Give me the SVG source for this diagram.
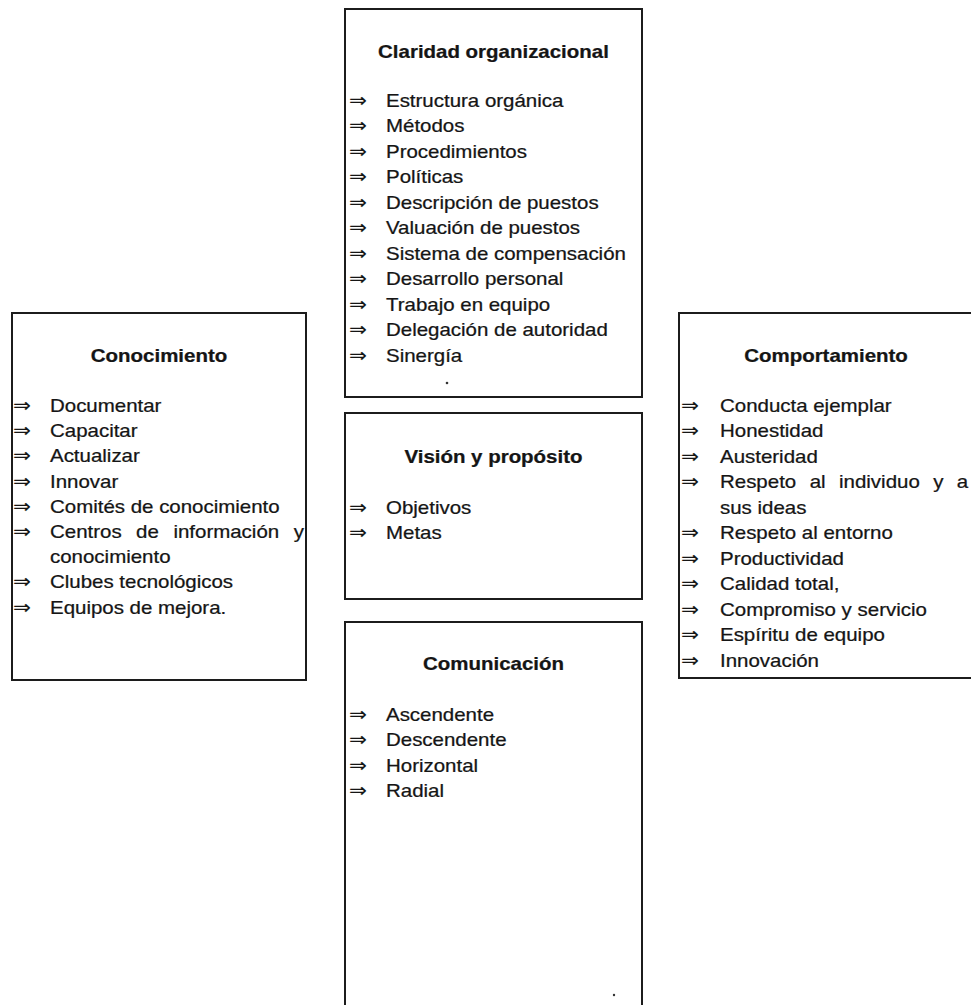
<svg xmlns="http://www.w3.org/2000/svg" width="971" height="1005" viewBox="0 0 971 1005">
  <style>
    .box { fill: none; stroke: #1c1c1c; stroke-width: 2; }
    .t { font-family: "Liberation Sans", Arial, sans-serif; font-size: 18.6px; fill: #151515; stroke: #151515; stroke-width: 0.25; }
    .h { font-weight: bold; text-anchor: middle; }
    .ar { font-family: "DejaVu Sans", sans-serif; font-size: 19.5px; stroke-width: 0.1; }
    .dot { fill: #333; }
  </style>
  <rect width="971" height="1005" fill="#ffffff"/>

  <!-- no connectors in this figure -->
  <g id="connectors"/>

  <!-- Claridad organizacional (top centre) -->
  <g id="claridad">
    <rect class="box" x="345" y="9" width="297" height="388"/>
    <g transform="translate(386 0) scale(1.1 1)">
      <text class="t h" x="97.7" y="58">Claridad organizacional</text>
      <text class="t" y="107"><tspan class="ar" x="-33.6">⇒</tspan><tspan x="0">Estructura orgánica</tspan></text>
      <text class="t" y="132.5"><tspan class="ar" x="-33.6">⇒</tspan><tspan x="0">Métodos</tspan></text>
      <text class="t" y="158"><tspan class="ar" x="-33.6">⇒</tspan><tspan x="0">Procedimientos</tspan></text>
      <text class="t" y="183.5"><tspan class="ar" x="-33.6">⇒</tspan><tspan x="0">Políticas</tspan></text>
      <text class="t" y="209"><tspan class="ar" x="-33.6">⇒</tspan><tspan x="0">Descripción de puestos</tspan></text>
      <text class="t" y="234.5"><tspan class="ar" x="-33.6">⇒</tspan><tspan x="0">Valuación de puestos</tspan></text>
      <text class="t" y="260"><tspan class="ar" x="-33.6">⇒</tspan><tspan x="0">Sistema de compensación</tspan></text>
      <text class="t" y="285.5"><tspan class="ar" x="-33.6">⇒</tspan><tspan x="0">Desarrollo personal</tspan></text>
      <text class="t" y="311"><tspan class="ar" x="-33.6">⇒</tspan><tspan x="0">Trabajo en equipo</tspan></text>
      <text class="t" y="336.5"><tspan class="ar" x="-33.6">⇒</tspan><tspan x="0">Delegación de autoridad</tspan></text>
      <text class="t" y="362"><tspan class="ar" x="-33.6">⇒</tspan><tspan x="0">Sinergía</tspan></text>
    </g>
    <circle class="dot" cx="447" cy="383" r="1.3"/>
  </g>

  <!-- Visión y propósito (centre) -->
  <g id="vision">
    <rect class="box" x="345" y="413" width="297" height="186"/>
    <g transform="translate(386 0) scale(1.1 1)">
      <text class="t h" x="97.7" y="463">Visión y propósito</text>
      <text class="t" y="514"><tspan class="ar" x="-33.6">⇒</tspan><tspan x="0">Objetivos</tspan></text>
      <text class="t" y="539.5"><tspan class="ar" x="-33.6">⇒</tspan><tspan x="0">Metas</tspan></text>
    </g>
  </g>

  <!-- Comunicación (bottom centre, runs past the lower edge) -->
  <g id="comunicacion">
    <path class="box" d="M345,1012 V622 H642 V1012"/>
    <g transform="translate(386 0) scale(1.1 1)">
      <text class="t h" x="97.7" y="670">Comunicación</text>
      <text class="t" y="721"><tspan class="ar" x="-33.6">⇒</tspan><tspan x="0">Ascendente</tspan></text>
      <text class="t" y="746.5"><tspan class="ar" x="-33.6">⇒</tspan><tspan x="0">Descendente</tspan></text>
      <text class="t" y="772"><tspan class="ar" x="-33.6">⇒</tspan><tspan x="0">Horizontal</tspan></text>
      <text class="t" y="797.5"><tspan class="ar" x="-33.6">⇒</tspan><tspan x="0">Radial</tspan></text>
    </g>
    <circle class="dot" cx="614" cy="995" r="1.2"/>
  </g>

  <!-- Conocimiento (left) -->
  <g id="conocimiento">
    <rect class="box" x="12" y="313" width="294" height="367"/>
    <g transform="translate(50 0) scale(1.1 1)">
      <text class="t h" x="99.1" y="362">Conocimiento</text>
      <text class="t" y="412"><tspan class="ar" x="-33.6">⇒</tspan><tspan x="0">Documentar</tspan></text>
      <text class="t" y="437.2"><tspan class="ar" x="-33.6">⇒</tspan><tspan x="0">Capacitar</tspan></text>
      <text class="t" y="462.4"><tspan class="ar" x="-33.6">⇒</tspan><tspan x="0">Actualizar</tspan></text>
      <text class="t" y="487.6"><tspan class="ar" x="-33.6">⇒</tspan><tspan x="0">Innovar</tspan></text>
      <text class="t" y="512.8"><tspan class="ar" x="-33.6">⇒</tspan><tspan x="0">Comités de conocimiento</tspan></text>
      <text class="t" y="538"><tspan class="ar" x="-33.6">⇒</tspan><tspan x="0">Centros</tspan><tspan x="78.3">de</tspan><tspan x="112.2">información</tspan><tspan x="221.5">y</tspan></text>
      <text class="t" y="563.2"><tspan x="0">conocimiento</tspan></text>
      <text class="t" y="588.4"><tspan class="ar" x="-33.6">⇒</tspan><tspan x="0">Clubes tecnológicos</tspan></text>
      <text class="t" y="613.6"><tspan class="ar" x="-33.6">⇒</tspan><tspan x="0">Equipos de mejora.</tspan></text>
    </g>
  </g>

  <!-- Comportamiento (right, runs past the right edge) -->
  <g id="comportamiento">
    <path class="box" d="M980,313 H679 V678 H980"/>
    <g transform="translate(720 0) scale(1.1 1)">
      <text class="t h" x="96.4" y="362">Comportamiento</text>
      <text class="t" y="412"><tspan class="ar" x="-35.5">⇒</tspan><tspan x="0">Conducta ejemplar</tspan></text>
      <text class="t" y="437.5"><tspan class="ar" x="-35.5">⇒</tspan><tspan x="0">Honestidad</tspan></text>
      <text class="t" y="463"><tspan class="ar" x="-35.5">⇒</tspan><tspan x="0">Austeridad</tspan></text>
      <text class="t" y="488.5"><tspan class="ar" x="-35.5">⇒</tspan><tspan x="0">Respeto</tspan><tspan x="81.5">al</tspan><tspan x="108.2">individuo</tspan><tspan x="193.8">y</tspan><tspan x="215.3">a</tspan></text>
      <text class="t" y="514"><tspan x="0">sus ideas</tspan></text>
      <text class="t" y="539.5"><tspan class="ar" x="-35.5">⇒</tspan><tspan x="0">Respeto al entorno</tspan></text>
      <text class="t" y="565"><tspan class="ar" x="-35.5">⇒</tspan><tspan x="0">Productividad</tspan></text>
      <text class="t" y="590.5"><tspan class="ar" x="-35.5">⇒</tspan><tspan x="0">Calidad total,</tspan></text>
      <text class="t" y="616"><tspan class="ar" x="-35.5">⇒</tspan><tspan x="0">Compromiso y servicio</tspan></text>
      <text class="t" y="641.5"><tspan class="ar" x="-35.5">⇒</tspan><tspan x="0">Espíritu de equipo</tspan></text>
      <text class="t" y="667"><tspan class="ar" x="-35.5">⇒</tspan><tspan x="0">Innovación</tspan></text>
    </g>
  </g>
</svg>
